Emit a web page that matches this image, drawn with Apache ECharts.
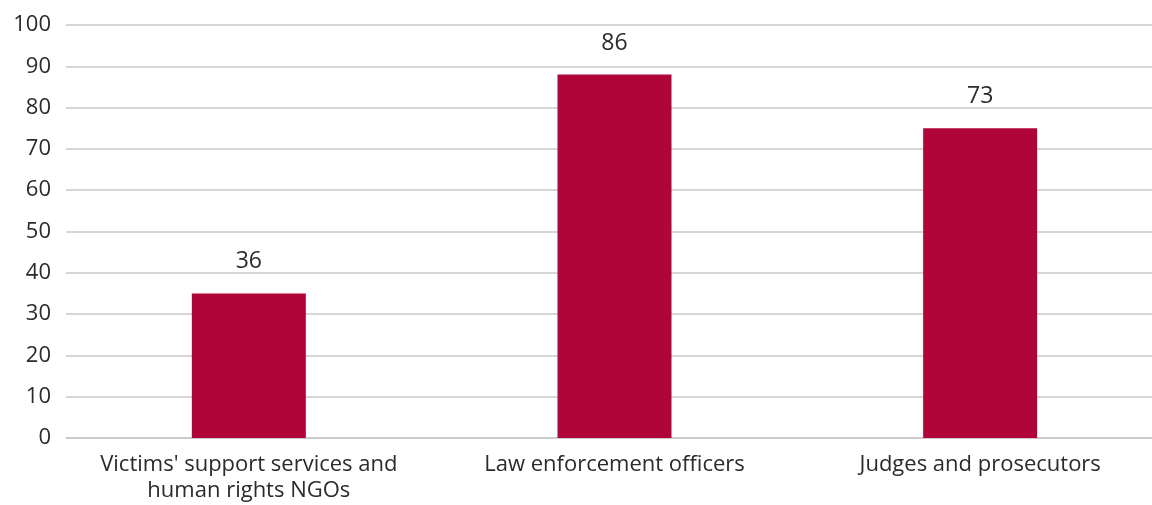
<!DOCTYPE html>
<html>
<head>
<meta charset="utf-8">
<script src="https://cdn.jsdelivr.net/npm/echarts@6/dist/echarts.min.js"></script>
<style>
html,body{margin:0;padding:0;background:#fff;}
#chart{width:1152px;height:505px;}
</style>
</head>
<body>
<div id="chart"></div>
<script>
const categories = ["Victims' support services and\nhuman rights NGOs", "Law enforcement officers", "Judges and prosecutors"];
const barValues = [35, 88, 75];
const labelTexts = ["36", "86", "73"];
const yTicks = { min: 0, max: 100, interval: 10 };

const chart = echarts.init(document.getElementById('chart'), null, { renderer: 'canvas' });
const font = "'Open Sans', 'Noto Sans', sans-serif";
chart.setOption({
  animation: false,
  backgroundColor: '#ffffff',
  grid: { left: 66, top: 25, bottom: 67, width: 1097, containLabel: false, outerBoundsMode: 'none' },
  xAxis: {
    type: 'category',
    data: categories,
    axisLine: { show: true, lineStyle: { color: '#c8c8c8', width: 1.5 } },
    axisTick: { show: false },
    axisLabel: { interval: 0, margin: 14, color: '#2b2b2b', fontSize: 22, lineHeight: 26, fontFamily: font }
  },
  yAxis: {
    type: 'value',
    min: yTicks.min, max: yTicks.max, interval: yTicks.interval,
    axisLine: { show: false },
    axisTick: { show: false },
    splitLine: { show: true, lineStyle: { color: '#c8c8c8', width: 1.5 } },
    axisLabel: { margin: 15, color: '#2b2b2b', fontSize: 22, fontFamily: font }
  },
  series: [{
    type: 'bar',
    data: barValues,
    barWidth: 114,
    itemStyle: { color: '#B00538' },
    label: {
      show: true,
      position: 'top',
      distance: 20,
      color: '#2b2b2b',
      fontSize: 23,
      fontFamily: font,
      formatter: p => labelTexts[p.dataIndex]
    }
  }]
});
</script>
</body>
</html>
